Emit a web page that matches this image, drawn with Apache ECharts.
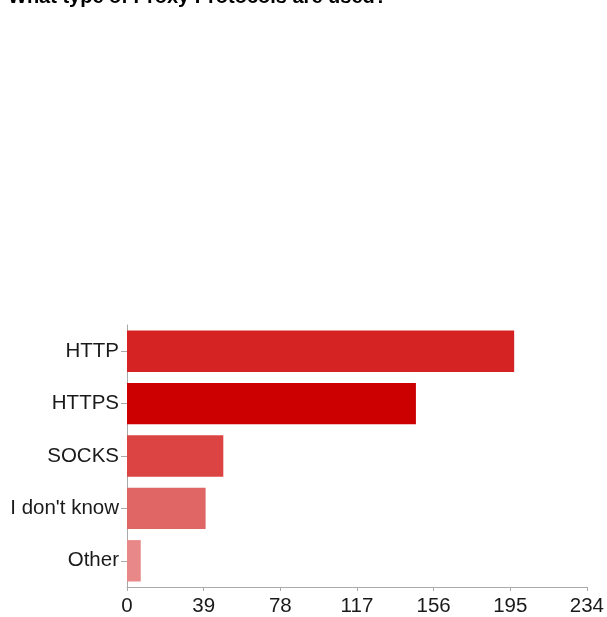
<!DOCTYPE html>
<html>
<head>
<meta charset="utf-8">
<script src="https://cdn.jsdelivr.net/npm/echarts@6/dist/echarts.min.js"></script>
<style>
html,body{margin:0;padding:0;background:#fff;}
#c{width:607px;height:617px;}
</style>
</head>
<body>
<div id="c"></div>
<script>
var titleText = "What type of Proxy Protocols are used?";
var categories = ["HTTP", "HTTPS", "SOCKS", "I don't know", "Other"];
var values = [197, 147, 49, 40, 7];
var barColors = ["#D52222", "#CC0000", "#DC4444", "#E06666", "#E88888"];
var xTicks = [0, 39, 78, 117, 156, 195, 234];

var chart = echarts.init(document.getElementById('c'), null, {renderer: 'canvas'});
var font = "Liberation Sans, Arial, sans-serif";
chart.setOption({
  animation: false,
  backgroundColor: '#fff',
  title: {
    text: titleText,
    left: 8,
    top: -13,
    padding: 0,
    textStyle: {fontFamily: font, fontSize: 20, fontWeight: 'bold', color: '#000'}
  },
  grid: {left: 127, right: 18, top: 325, bottom: 28, containLabel: false},
  xAxis: {
    type: 'value',
    min: xTicks[0],
    max: xTicks[xTicks.length - 1],
    interval: 39,
    splitLine: {show: false},
    axisLine: {show: true, lineStyle: {color: '#aaa', width: 1}},
    axisTick: {show: true, length: 4, lineStyle: {color: '#aaa'}},
    axisLabel: {fontFamily: font, fontSize: 20.5, color: '#1a1a1a', margin: 9}
  },
  yAxis: {
    type: 'category',
    data: categories,
    inverse: true,
    axisLine: {show: true, lineStyle: {color: '#aaa', width: 1}},
    axisTick: {show: true, alignWithLabel: true, length: 6, lineStyle: {color: '#aaa'}},
    axisLabel: {fontFamily: font, fontSize: 20.5, color: '#1a1a1a', margin: 8}
  },
  series: [{
    type: 'bar',
    data: values.map(function (v, i) { return {value: v, itemStyle: {color: barColors[i]}}; }),
    barCategoryGap: '21%',
    itemStyle: {borderWidth: 0}
  }]
});
</script>
</body>
</html>
